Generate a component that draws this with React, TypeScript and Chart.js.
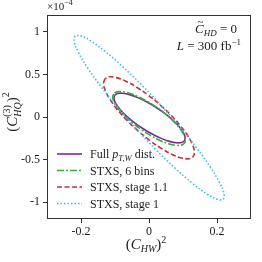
import React, { useEffect, useRef } from "react";
import { Chart, registerables } from "chart.js";

Chart.register(...registerables);

// ---- data (y values in units of 1e-4) ----
const X_TICKS = [-0.2, 0, 0.2];
const Y_TICKS = [-1, -0.5, 0, 0.5, 1];

const SERIES_LABELS = ["Full p_{T,W} dist.", "STXS, 6 bins", "STXS, stage 1.1", "STXS, stage 1"];

const fullX = [-0.1014, -0.1030, -0.0975, -0.0852, -0.0670, -0.0442, -0.0182, 0.0091, 0.0359, 0.0603, 0.0808, 0.0958,
  0.1044, 0.1060, 0.1005, 0.0882, 0.0700, 0.0472, 0.0212, -0.0061, -0.0329, -0.0573, -0.0778, -0.0928, -0.1014];
const fullY = [0.2538, 0.2128, 0.1566, 0.0888, 0.0142, -0.0622, -0.1351, -0.1996, -0.2514, -0.2868, -0.3035, -0.3003,
  -0.2774, -0.2364, -0.1802, -0.1124, -0.0378, 0.0386, 0.1115, 0.1760, 0.2278, 0.2632, 0.2799, 0.2767, 0.2538];

const sixBinsX = [-0.1044, -0.1067, -0.1017, -0.0898, -0.0718, -0.0489, -0.0226, 0.0052, 0.0326, 0.0578, 0.0791, 0.0950,
  0.1044, 0.1067, 0.1017, 0.0898, 0.0718, 0.0489, 0.0226, -0.0052, -0.0326, -0.0578, -0.0791, -0.0950, -0.1044];
const sixBinsY = [0.2716, 0.2278, 0.1672, 0.0940, 0.0132, -0.0697, -0.1490, -0.2194, -0.2761, -0.3151, -0.3339, -0.3311,
  -0.3070, -0.2632, -0.2026, -0.1294, -0.0486, 0.0343, 0.1136, 0.1840, 0.2407, 0.2797, 0.2985, 0.2957, 0.2716];

const stage11X = [-0.1295, -0.1337, -0.1287, -0.1150, -0.0934, -0.0655, -0.0331, 0.0015, 0.0361, 0.0682, 0.0956, 0.1165,
  0.1295, 0.1337, 0.1287, 0.1150, 0.0934, 0.0655, 0.0331, -0.0015, -0.0361, -0.0682, -0.0956, -0.1165, -0.1295];
const stage11Y = [0.4494, 0.3948, 0.3126, 0.2084, 0.0894, -0.0363, -0.1602, -0.2738, -0.3695, -0.4406, -0.4823, -0.4918,
  -0.4684, -0.4138, -0.3316, -0.2274, -0.1084, 0.0173, 0.1412, 0.2548, 0.3505, 0.4216, 0.4633, 0.4728, 0.4494];

const stage1X = [-0.2181, -0.2202, -0.2073, -0.1803, -0.1410, -0.0921, -0.0369, 0.0208, 0.0771, 0.1281, 0.1704, 0.2011,
  0.2181, 0.2202, 0.2073, 0.1803, 0.1410, 0.0921, 0.0369, -0.0208, -0.0771, -0.1281, -0.1704, -0.2011, -0.2181];
const stage1Y = [0.9543, 0.8865, 0.7579, 0.5772, 0.3568, 0.1117, -0.1415, -0.3854, -0.6035, -0.7808, -0.9054, -0.9686,
  -0.9663, -0.8985, -0.7699, -0.5892, -0.3688, -0.1237, 0.1295, 0.3734, 0.5915, 0.7688, 0.8934, 0.9566, 0.9543];

const SERIF = "'Liberation Serif', 'DejaVu Serif', serif";

type Part = { t: string; it?: boolean; s?: number; dy?: number };

function partsWidth(ctx: CanvasRenderingContext2D, parts: Part[], base: number) {
  let w = 0;
  for (const p of parts) {
    ctx.font = `${p.it ? "italic " : ""}${p.s ?? base}px ${SERIF}`;
    w += ctx.measureText(p.t).width;
  }
  return w;
}

function drawParts(ctx: CanvasRenderingContext2D, parts: Part[], x: number, y: number, base: number, align: "left" | "right" | "center") {
  const w = partsWidth(ctx, parts, base);
  let cx = align === "left" ? x : align === "right" ? x - w : x - w / 2;
  ctx.textAlign = "left";
  ctx.textBaseline = "alphabetic";
  for (const p of parts) {
    ctx.font = `${p.it ? "italic " : ""}${p.s ?? base}px ${SERIF}`;
    ctx.fillText(p.t, cx, y + (p.dy ?? 0));
    cx += ctx.measureText(p.t).width;
  }
}

function labelParts(label: string): Part[] {
  const out: Part[] = [];
  const re = /(\w)_\{([^}]*)\}/g;
  let last = 0;
  let m: RegExpExecArray | null;
  while ((m = re.exec(label))) {
    if (m.index > last) out.push({ t: label.slice(last, m.index) });
    out.push({ t: m[1], it: true });
    out.push({ t: m[2], it: true, s: 8.5, dy: 2.5 });
    last = m.index + m[0].length;
  }
  if (last < label.length) out.push({ t: label.slice(last) });
  return out;
}

const overlay = {
  id: "overlay",
  afterDraw(chart: any) {
    const ctx: CanvasRenderingContext2D = chart.ctx;
    const { left, right, top, bottom } = chart.chartArea;
    ctx.save();
    // frame
    ctx.strokeStyle = "#333";
    ctx.lineWidth = 1;
    ctx.strokeRect(Math.round(left) + 0.5, Math.round(top) + 0.5, Math.round(right - left) - 1, Math.round(bottom - top) - 1);

    ctx.fillStyle = "#222";
    // offset text
    drawParts(ctx, [{ t: "×10", s: 11 }, { t: "−4", s: 8, dy: -5 }], left, 10, 11, "left");

    // annotation
    const l1: Part[] = [{ t: "C", it: true }, { t: "HD", it: true, s: 9, dy: 3 }, { t: " = 0" }];
    const w1 = partsWidth(ctx, l1, 13);
    drawParts(ctx, l1, 237, 33, 13, "right");
    // tilde over C
    ctx.font = `11px ${SERIF}`;
    ctx.textAlign = "left";
    ctx.fillText("~", 237 - w1 + 2.5, 25);
    drawParts(ctx, [{ t: "L", it: true }, { t: " = 300 fb" }, { t: "−1", s: 9, dy: -5 }], 241, 50, 13, "right");

    // x title
    drawParts(ctx, [{ t: "(" }, { t: "C", it: true }, { t: "HW", it: true, s: 10, dy: 3 }, { t: ")" }, { t: "2", s: 10, dy: -6 }], 146, 249, 15, "center");

    // y title (rotated)
    ctx.save();
    ctx.translate(17, 112);
    ctx.rotate(-Math.PI / 2);
    ctx.font = `15px ${SERIF}`;
    const wp = ctx.measureText("(").width;
    ctx.font = `italic 15px ${SERIF}`;
    const wc = ctx.measureText("C").width;
    ctx.font = `10px ${SERIF}`;
    const ws = ctx.measureText("(3)").width;
    ctx.font = `italic 10px ${SERIF}`;
    const wh = ctx.measureText("HQ").width;
    const wstack = Math.max(ws, wh);
    ctx.font = `15px ${SERIF}`;
    const wcl = ctx.measureText(")").width;
    ctx.font = `10px ${SERIF}`;
    const w2 = ctx.measureText("2").width;
    const total = wp + wc + wstack + wcl + w2;
    let cx = -total / 2;
    ctx.textAlign = "left";
    ctx.font = `15px ${SERIF}`;
    ctx.fillText("(", cx, 0); cx += wp;
    ctx.font = `italic 15px ${SERIF}`;
    ctx.fillText("C", cx, 0); cx += wc;
    ctx.font = `10px ${SERIF}`;
    ctx.fillText("(3)", cx, -7);
    ctx.font = `italic 10px ${SERIF}`;
    ctx.fillText("HQ", cx, 3.5); cx += wstack;
    ctx.font = `15px ${SERIF}`;
    ctx.fillText(")", cx, 0); cx += wcl;
    ctx.font = `10px ${SERIF}`;
    ctx.fillText("2", cx, -8);
    ctx.restore();

    // legend
    const rows = [154, 170.5, 187, 203.5];
    const dsets = chart.data.datasets;
    dsets.forEach((ds: any, i: number) => {
      const y = rows[i];
      ctx.save();
      ctx.strokeStyle = ds.borderColor;
      ctx.lineWidth = ds.borderWidth;
      ctx.setLineDash(ds.borderDash || []);
      ctx.beginPath();
      ctx.moveTo(57, y);
      ctx.lineTo(82, y);
      ctx.stroke();
      ctx.restore();
      ctx.fillStyle = "#222";
      drawParts(ctx, labelParts(ds.label), 90, y + 4, 12, "left");
    });
    ctx.restore();
  },
};

export default function App() {
  const ref = useRef<HTMLCanvasElement | null>(null);
  useEffect(() => {
    if (!ref.current) return;
    const mk = (xs: number[], ys: number[]) => xs.map((x, i) => ({ x, y: ys[i] }));
    const chart = new Chart(ref.current, {
      type: "scatter",
      data: {
        datasets: [
          { label: SERIES_LABELS[0], data: mk(fullX, fullY), borderColor: "#7b2c8c", borderWidth: 1.6, borderDash: [], order: 4 },
          { label: SERIES_LABELS[1], data: mk(sixBinsX, sixBinsY), borderColor: "#3aaa3a", borderWidth: 1.6, borderDash: [7, 2, 2, 2], order: 3 },
          { label: SERIES_LABELS[2], data: mk(stage11X, stage11Y), borderColor: "#c3303a", borderWidth: 1.6, borderDash: [5, 2.5], order: 2 },
          { label: SERIES_LABELS[3], data: mk(stage1X, stage1Y), borderColor: "#3bbcee", borderWidth: 1.6, borderDash: [1.5, 2], order: 1 },
        ].map((d) => ({ ...d, showLine: true, pointRadius: 0, tension: 0.4, fill: false })) as any,
      },
      options: {
        animation: false,
        responsive: false,
        events: [],
        layout: { padding: { top: 15, right: 11, left: 0, bottom: 0 } },
        plugins: { legend: { display: false }, tooltip: { enabled: false } },
        scales: {
          x: {
            type: "linear",
            min: -0.3,
            max: 0.3,
            afterBuildTicks: (s: any) => { s.ticks = X_TICKS.map((v) => ({ value: v })); },
            afterFit: (s: any) => { s.height = 43; },
            grid: { drawOnChartArea: false, tickLength: 4, color: "#333" },
            border: { display: false },
            ticks: { font: { family: SERIF, size: 12 }, color: "#222", padding: 2, maxRotation: 0, autoSkip: false, callback: (v: any) => String(Math.round(v * 10) / 10) },
          },
          y: {
            type: "linear",
            min: -1.2,
            max: 1.2,
            afterBuildTicks: (s: any) => { s.ticks = Y_TICKS.map((v) => ({ value: v })); },
            afterFit: (s: any) => { s.width = 47; },
            grid: { drawOnChartArea: false, tickLength: 4, color: "#333" },
            border: { display: false },
            ticks: { font: { family: SERIF, size: 12 }, color: "#222", padding: 3, autoSkip: false, callback: (v: any) => String(Math.round(v * 10) / 10) },
          },
        },
      },
      plugins: [overlay],
    });
    return () => chart.destroy();
  }, []);
  return (
    <div style={{ position: "absolute", left: 0, top: 0, width: 262, height: 262, background: "#fff" }}>
      <canvas ref={ref} width={262} height={262} style={{ width: 262, height: 262 }} />
    </div>
  );
}
